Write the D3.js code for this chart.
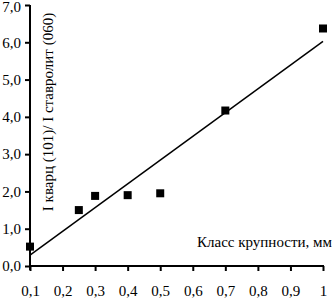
<!DOCTYPE html>
<html lang="ru">
<head>
    <meta charset="UTF-8">
    <title>Класс крупности</title>
    <script src="https://d3js.org/d3.v7.min.js"></script>
    <style>
        body { margin: 0; background: #fff; }
        text { font-family: "Liberation Serif", "Times New Roman", serif; fill: #000; }
    </style>
</head>
<body>
    <div id="chart"></div>
    <script>
        // grain size class, mm
        const sizeClass = [0.1, 0.25, 0.3, 0.4, 0.5, 0.7, 1.0];
        // intensity ratio I quartz (101) / I staurolite (060)
        const ratio = [0.52, 1.5, 1.88, 1.9, 1.95, 4.17, 6.37];
        const xTicks = [0.1, 0.2, 0.3, 0.4, 0.5, 0.6, 0.7, 0.8, 0.9, 1];
        const yTicks = [0, 1, 2, 3, 4, 5, 6, 7];

        const w = 332;
        const h = 298;

        const xScale = d3.scaleLinear().domain([0.1, 1]).range([30, 323]);
        const yScale = d3.scaleLinear().domain([0, 7]).range([266, 5]);

        const svg = d3.select('#chart')
            .append('svg')
            .attr("width", w)
            .attr("height", h);

        // least squares trend line
        const mx = d3.mean(sizeClass);
        const my = d3.mean(ratio);
        let sxy = 0, sxx = 0;
        sizeClass.forEach((x, i) => {
            sxy += (x - mx) * (ratio[i] - my);
            sxx += (x - mx) * (x - mx);
        });
        const slope = sxy / sxx;
        const icpt = my - slope * mx;

        svg.append('line')
            .attr("x1", xScale(0.1))
            .attr("y1", yScale(icpt + slope * 0.1))
            .attr("x2", xScale(1))
            .attr("y2", yScale(icpt + slope * 1))
            .attr("stroke", "#000")
            .attr("stroke-width", 1.5);

        const fmt = d => d === 1 ? "1" : d3.format(".1f")(d).replace(".", ",");

        const xAxis = d3.axisBottom(xScale)
            .tickValues(xTicks)
            .tickSize(5)
            .tickPadding(14)
            .tickFormat(fmt);
        const yAxis = d3.axisLeft(yScale)
            .tickValues(yTicks)
            .tickSize(5)
            .tickPadding(4)
            .tickFormat(d => d3.format(".1f")(d).replace(".", ","));

        const gx = svg.append('g')
            .attr("transform", "translate(0," + yScale(0) + ")")
            .call(xAxis);
        const gy = svg.append('g')
            .attr("transform", "translate(" + xScale(0.1) + ",0)")
            .call(yAxis);

        [gx, gy].forEach(g => {
            g.select(".domain").attr("stroke", "#000").attr("stroke-width", 2);
            g.selectAll(".tick line").attr("stroke", "#000").attr("stroke-width", 2);
            g.selectAll(".tick text")
                .style("font-family", "'Liberation Serif', serif")
                .style("font-size", "15px")
                .attr("fill", "#000");
        });
        gx.select(".domain").attr("d", "M" + xScale(0.1) + ",0H" + (xScale(1) + 1));
        gy.select(".domain").attr("d", "M0," + yScale(7) + "V" + (yScale(0) + 4));
        // keep the top label inside the frame
        gy.selectAll(".tick").filter(d => d === 7).select("text").attr("dy", "0.45em");

        svg.selectAll('rect.pt')
            .data(sizeClass)
            .enter()
            .append('rect')
            .attr("class", "pt")
            .attr("x", d => xScale(d) - 4)
            .attr("y", (d, i) => yScale(ratio[i]) - 4)
            .attr("width", 8)
            .attr("height", 8)
            .attr("fill", "#000");

        svg.append('text')
            .attr("transform", "translate(53," + 112 + ") rotate(-90)")
            .attr("text-anchor", "middle")
            .style("font-size", "15px")
            .text("I кварц (101)/ I ставролит (060)");

        svg.append('text')
            .attr("x", 332)
            .attr("y", 247)
            .attr("text-anchor", "end")
            .style("font-size", "15px")
            .text("Класс крупности, мм");
    </script>
</body>
</html>
